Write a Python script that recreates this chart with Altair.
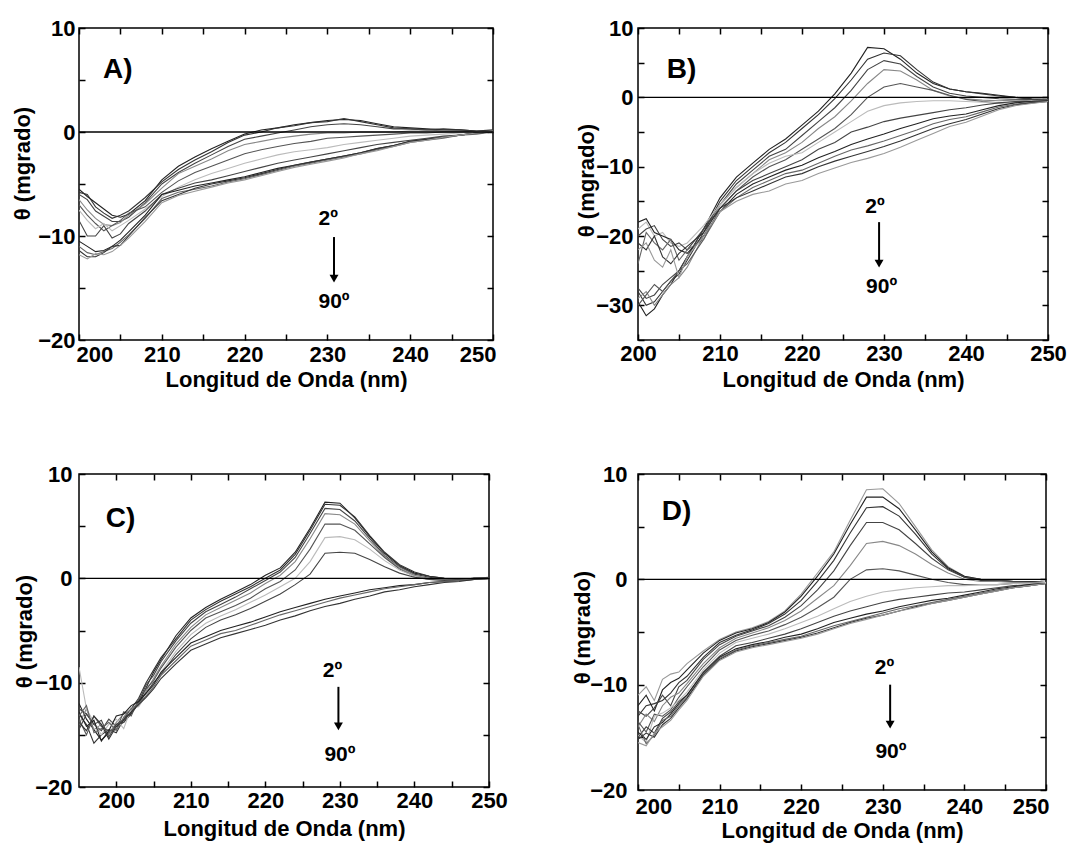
import altair as alt
import pandas as pd

FONT = "Liberation Sans"

# ---------------- Panel A ----------------
wl_a = [200, 201, 202, 203, 204, 205, 206, 208, 210, 212, 214, 216, 218, 220, 222, 224,
        226, 228, 230, 232, 234, 236, 238, 240, 242, 244, 246, 248, 250]
a1 = [-5.5, -6.2, -6.8, -7.4, -8.0, -8.2, -7.9, -6.6, -4.6, -3.3, -2.4, -1.6, -0.9, -0.2, 0.2, 0.4, 0.7, 0.9, 1.1, 1.2, 1.1, 0.8, 0.5, 0.4, 0.3, 0.2, 0.2, 0.1, 0.1]
a2 = [-5.8, -6.0, -7.2, -7.8, -8.3, -8.0, -7.6, -6.3, -4.8, -3.6, -2.7, -1.9, -1.0, -0.3, 0.0, 0.4, 0.6, 0.9, 1.0, 1.3, 1.0, 0.7, 0.4, 0.3, 0.2, 0.3, 0.2, 0.1, 0.2]
a3 = [-6.0, -6.5, -7.6, -8.1, -8.6, -8.6, -8.2, -6.8, -5.0, -3.9, -3.0, -2.2, -1.4, -0.7, -0.4, -0.1, 0.2, 0.5, 0.7, 0.8, 0.7, 0.5, 0.3, 0.3, 0.2, 0.1, 0.1, 0.0, 0.1]
a4 = [-6.5, -7.5, -8.3, -8.9, -9.0, -8.7, -8.0, -6.9, -5.4, -4.0, -3.3, -2.6, -1.8, -1.2, -0.9, -0.6, -0.4, -0.2, -0.1, -0.1, 0.0, 0.0, 0.0, 0.1, 0.1, 0.1, 0.0, 0.0, 0.0]
a5 = [-7.0, -8.0, -8.8, -9.5, -9.0, -8.5, -7.8, -7.2, -5.8, -4.7, -3.9, -3.3, -2.7, -2.1, -1.7, -1.4, -1.1, -0.9, -0.6, -0.5, -0.4, -0.3, -0.2, -0.1, -0.1, 0.0, 0.0, 0.0, 0.0]
a6 = [-7.5, -8.5, -9.3, -8.8, -9.5, -9.0, -8.5, -7.4, -6.2, -5.3, -4.6, -4.0, -3.5, -3.0, -2.6, -2.2, -1.9, -1.7, -1.5, -1.2, -1.0, -0.8, -0.6, -0.4, -0.3, -0.2, -0.1, 0.0, 0.0]
a7 = [-8.5, -10.0, -10.0, -9.0, -10.2, -9.8, -8.8, -7.6, -6.0, -5.4, -4.9, -4.6, -4.2, -3.8, -3.4, -3.0, -2.7, -2.4, -2.1, -1.8, -1.5, -1.2, -1.0, -0.8, -0.6, -0.4, -0.3, -0.1, 0.0]
a8 = [-10.5, -11.0, -11.5, -11.4, -11.0, -10.4, -9.6, -8.0, -6.0, -5.6, -5.2, -4.9, -4.6, -4.3, -3.9, -3.5, -3.2, -2.9, -2.6, -2.3, -2.0, -1.6, -1.3, -0.9, -0.7, -0.5, -0.3, -0.1, 0.0]
a9 = [-11.0, -11.6, -11.8, -11.5, -11.2, -10.6, -9.9, -8.3, -6.4, -5.8, -5.5, -5.2, -4.8, -4.5, -4.1, -3.7, -3.3, -3.0, -2.7, -2.4, -2.1, -1.7, -1.4, -1.0, -0.8, -0.6, -0.3, -0.2, 0.0]
a10 = [-11.4, -12.0, -12.0, -11.6, -11.0, -10.9, -10.0, -8.2, -6.6, -6.0, -5.4, -5.0, -4.7, -4.4, -4.0, -3.6, -3.2, -2.9, -2.6, -2.3, -2.0, -1.6, -1.3, -0.9, -0.7, -0.5, -0.3, -0.1, 0.0]
a11 = [-11.8, -12.2, -11.7, -11.8, -11.5, -10.9, -10.2, -8.6, -6.8, -6.1, -5.7, -5.3, -4.9, -4.6, -4.2, -3.8, -3.4, -3.1, -2.8, -2.5, -2.1, -1.8, -1.4, -1.0, -0.8, -0.5, -0.3, -0.1, 0.1]

# ---------------- Panel B ----------------
wl_b = [200, 201, 202, 203, 204, 205, 206, 208, 210, 212, 214, 216, 218, 220, 222, 224,
        226, 228, 230, 232, 234, 236, 238, 240, 242, 244, 246, 248, 250]
b1 = [-29.5, -31.5, -30.5, -28.5, -27.0, -25.0, -23.0, -19.0, -14.5, -11.5, -9.5, -7.5, -6.0, -4.0, -2.0, 0.5, 3.5, 7.2, 7.0, 5.5, 3.5, 2.0, 1.2, 0.8, 0.6, 0.3, 0.0, -0.2, -0.3]
b2 = [-28.0, -30.0, -29.5, -28.0, -26.5, -25.5, -23.5, -19.5, -15.0, -12.0, -10.0, -8.0, -6.5, -4.5, -2.5, -0.2, 2.5, 5.5, 6.4, 6.0, 4.0, 2.2, 1.2, 0.8, 0.5, 0.2, 0.0, -0.3, -0.4]
b3 = [-27.5, -29.0, -28.5, -27.0, -26.0, -25.0, -23.0, -19.0, -15.5, -12.5, -10.5, -8.5, -7.5, -5.5, -3.5, -1.5, 1.0, 4.0, 5.3, 4.8, 3.0, 1.5, 0.6, 0.2, 0.0, -0.2, -0.3, -0.3, -0.5]
b4 = [-29.0, -28.0, -30.0, -28.5, -27.0, -26.0, -24.5, -20.0, -15.5, -13.0, -11.0, -9.0, -8.0, -6.5, -4.5, -2.8, -0.5, 2.0, 4.0, 3.8, 2.5, 1.0, 0.2, -0.2, -0.4, -0.5, -0.4, -0.5, -0.4]
b5 = [-30.0, -28.5, -27.0, -28.0, -26.5, -25.0, -24.0, -20.5, -16.0, -13.5, -11.5, -10.0, -9.0, -7.5, -6.0, -4.5, -2.5, 0.0, 1.5, 2.0, 1.5, 1.0, 0.3, -0.3, -0.6, -0.8, -0.7, -0.6, -0.5]
b6 = [-19.0, -18.0, -20.0, -19.5, -21.0, -21.5, -21.0, -18.5, -15.5, -13.0, -11.0, -9.5, -8.5, -8.0, -6.5, -5.0, -3.5, -2.0, -1.2, -0.8, -0.6, -0.5, -0.5, -0.6, -0.7, -0.8, -0.7, -0.6, -0.5]
b7 = [-20.0, -19.0, -18.5, -20.5, -21.5, -21.0, -22.0, -19.0, -16.0, -13.5, -12.0, -11.0, -10.0, -9.0, -7.5, -6.5, -5.0, -4.3, -3.5, -3.0, -2.6, -2.2, -1.8, -1.5, -1.1, -0.8, -0.6, -0.6, -0.5]
b8 = [-18.0, -17.5, -19.5, -20.0, -20.5, -22.0, -22.5, -20.0, -16.5, -14.0, -12.5, -11.5, -10.5, -9.8, -8.7, -7.8, -6.8, -6.0, -5.3, -4.5, -3.8, -3.1, -2.7, -2.4, -1.8, -1.2, -0.8, -0.6, -0.5]
b9 = [-24.0, -19.5, -21.0, -22.0, -20.5, -23.5, -22.0, -20.5, -16.5, -14.5, -13.0, -12.0, -11.0, -10.5, -9.5, -8.5, -7.6, -7.0, -6.3, -5.5, -4.7, -3.8, -3.2, -2.8, -2.1, -1.4, -1.0, -0.7, -0.6]
b10 = [-21.0, -22.0, -20.0, -23.0, -24.0, -22.5, -21.5, -19.5, -16.0, -14.5, -13.5, -12.5, -11.5, -11.0, -10.0, -9.2, -8.5, -7.8, -7.1, -6.3, -5.4, -4.5, -3.8, -3.2, -2.4, -1.6, -1.1, -0.8, -0.6]
b11 = [-22.0, -21.0, -23.5, -24.5, -22.0, -26.0, -23.0, -20.0, -16.5, -15.0, -14.0, -13.5, -12.5, -12.0, -11.0, -10.2, -9.4, -8.8, -8.1, -7.2, -6.2, -5.2, -4.2, -3.6, -2.7, -1.8, -1.2, -0.9, -0.6]

# ---------------- Panel C ----------------
wl_c = [195, 196, 197, 198, 199, 200, 201, 202, 203, 204, 205, 206, 208, 210, 212, 214, 216,
        218, 220, 222, 224, 226, 228, 230, 232, 234, 236, 238, 240, 242, 244, 246, 248, 250]
c1 = [-12.0, -13.5, -14.5, -15.5, -14.8, -14.0, -13.8, -13.0, -12.0, -10.5, -9.0, -7.8, -5.5, -3.8, -2.8, -2.0, -1.3, -0.6, 0.3, 1.0, 2.5, 4.8, 7.3, 7.2, 5.8, 4.0, 2.4, 1.2, 0.5, 0.2, 0.0, -0.1, 0.0, 0.0]
c2 = [-13.0, -14.0, -15.8, -15.0, -14.5, -14.8, -13.5, -12.5, -11.5, -10.0, -8.8, -7.6, -5.8, -4.0, -3.0, -2.2, -1.5, -0.8, 0.0, 0.8, 2.3, 4.6, 7.1, 7.0, 5.9, 4.1, 2.5, 1.3, 0.6, 0.2, 0.0, -0.1, -0.1, 0.0]
c3 = [-12.5, -13.0, -14.0, -14.6, -13.5, -14.2, -13.8, -12.8, -11.8, -10.2, -9.3, -8.0, -6.0, -4.3, -3.2, -2.5, -1.8, -1.0, -0.2, 0.6, 2.0, 4.3, 6.7, 6.6, 5.5, 3.8, 2.2, 1.1, 0.4, 0.1, -0.1, -0.2, 0.0, 0.1]
c4 = [-14.0, -12.5, -14.5, -14.0, -15.0, -13.8, -13.0, -12.6, -12.2, -10.8, -9.6, -8.4, -6.3, -4.7, -3.5, -2.8, -2.1, -1.4, -0.5, 0.3, 1.6, 3.8, 6.2, 6.1, 5.2, 3.6, 2.1, 1.0, 0.3, 0.0, -0.2, -0.1, 0.0, 0.0]
c5 = [-13.5, -15.0, -13.2, -14.2, -14.6, -14.5, -12.8, -13.2, -11.6, -10.6, -9.8, -8.6, -6.6, -5.0, -3.8, -3.2, -2.6, -1.9, -1.0, -0.3, 0.8, 2.8, 5.2, 5.2, 4.6, 3.3, 2.0, 0.9, 0.2, -0.1, -0.1, -0.2, 0.0, 0.0]
c6 = [-8.5, -12.5, -13.8, -15.0, -14.0, -13.5, -14.4, -12.4, -12.3, -11.2, -10.2, -9.0, -7.0, -5.4, -4.3, -3.6, -3.0, -2.3, -1.6, -0.8, 0.0, 1.6, 3.9, 4.0, 3.7, 2.8, 1.7, 0.8, 0.2, -0.1, -0.2, -0.2, -0.1, 0.0]
c7 = [-14.5, -13.0, -14.0, -13.6, -15.2, -14.0, -13.5, -12.9, -11.9, -11.0, -10.0, -9.2, -7.3, -5.8, -4.7, -4.0, -3.5, -2.9, -2.2, -1.5, -0.6, 0.4, 2.4, 2.5, 2.4, 1.8, 1.1, 0.5, 0.1, -0.1, -0.2, -0.1, 0.0, 0.0]
c8 = [-12.8, -14.2, -13.6, -15.6, -14.6, -13.2, -13.0, -12.2, -11.8, -11.0, -10.2, -9.0, -7.6, -6.2, -5.6, -5.0, -4.6, -4.2, -3.7, -3.2, -2.8, -2.4, -2.0, -1.7, -1.4, -1.1, -0.9, -0.7, -0.6, -0.4, -0.3, -0.2, -0.1, 0.0]
c9 = [-13.2, -12.2, -14.8, -14.4, -13.8, -14.6, -13.3, -12.5, -12.0, -11.3, -10.4, -9.3, -7.9, -6.5, -5.9, -5.3, -5.0, -4.5, -4.0, -3.5, -3.1, -2.7, -2.3, -1.9, -1.6, -1.3, -1.0, -0.8, -0.6, -0.4, -0.3, -0.2, -0.1, 0.0]
c10 = [-13.8, -14.6, -13.2, -14.0, -15.4, -14.2, -13.6, -12.8, -12.1, -11.4, -10.6, -9.6, -8.2, -6.9, -6.3, -5.7, -5.3, -4.9, -4.5, -4.0, -3.6, -3.1, -2.7, -2.4, -2.0, -1.7, -1.3, -1.1, -0.8, -0.6, -0.4, -0.3, -0.1, 0.0]

# ---------------- Panel D ----------------
wl_d = [200, 201, 202, 203, 204, 205, 206, 208, 210, 212, 214, 216, 218, 220, 222, 224,
        226, 228, 230, 232, 234, 236, 238, 240, 242, 244, 246, 248, 250]
d1 = [-11.0, -10.2, -11.5, -9.5, -9.0, -8.8, -8.0, -6.8, -5.7, -5.0, -4.6, -4.0, -3.0, -1.4, 0.6, 2.6, 5.6, 8.5, 8.6, 7.2, 5.0, 2.8, 1.2, 0.3, 0.0, -0.1, -0.2, -0.2, -0.3]
d2 = [-12.0, -11.0, -12.5, -10.5, -9.8, -9.4, -8.6, -7.0, -5.8, -5.1, -4.7, -4.1, -3.1, -1.6, 0.3, 2.4, 5.2, 7.8, 7.8, 6.7, 4.7, 2.6, 1.1, 0.3, 0.0, -0.1, -0.2, -0.2, -0.3]
d3 = [-13.0, -12.0, -11.8, -11.5, -10.8, -9.8, -9.2, -7.4, -6.0, -5.3, -4.8, -4.2, -3.3, -2.0, -0.2, 1.8, 4.4, 6.8, 6.9, 6.0, 4.3, 2.4, 1.0, 0.2, -0.1, -0.1, -0.2, -0.2, -0.3]
d4 = [-12.5, -13.0, -12.2, -11.0, -12.0, -10.2, -9.6, -7.6, -6.2, -5.4, -4.9, -4.4, -3.6, -2.5, -1.0, 0.8, 3.2, 5.4, 5.4, 4.7, 3.4, 2.0, 0.9, 0.2, 0.0, -0.1, -0.2, -0.3, -0.3]
d5 = [-14.0, -12.8, -13.5, -12.0, -11.2, -10.8, -9.9, -8.0, -6.5, -5.6, -5.1, -4.6, -3.9, -3.0, -1.8, -0.6, 1.3, 3.4, 3.6, 3.2, 2.4, 1.4, 0.6, 0.0, -0.2, -0.2, -0.3, -0.3, -0.3]
d6 = [-13.5, -14.5, -12.8, -13.0, -12.4, -11.2, -10.2, -8.3, -6.7, -5.8, -5.3, -4.9, -4.3, -3.6, -2.7, -1.7, 0.0, 0.9, 1.0, 0.8, 0.4, 0.0, -0.3, -0.5, -0.5, -0.5, -0.4, -0.4, -0.3]
d7 = [-14.8, -15.5, -13.0, -12.7, -12.2, -11.5, -10.7, -8.6, -7.0, -6.0, -5.6, -5.2, -4.7, -4.1, -3.5, -2.8, -2.1, -1.6, -1.2, -1.0, -0.8, -0.7, -0.6, -0.6, -0.5, -0.5, -0.4, -0.4, -0.3]
d8 = [-15.0, -14.0, -14.6, -13.2, -12.6, -11.6, -11.0, -8.8, -7.3, -6.3, -6.0, -5.6, -5.2, -4.7, -4.1, -3.5, -3.0, -2.6, -2.2, -1.9, -1.7, -1.5, -1.3, -1.2, -1.0, -0.8, -0.6, -0.5, -0.4]
d9 = [-14.5, -15.2, -14.0, -13.6, -12.8, -11.8, -11.0, -8.9, -7.4, -6.6, -6.2, -5.9, -5.5, -5.2, -4.7, -4.1, -3.7, -3.3, -3.0, -2.6, -2.3, -2.0, -1.8, -1.5, -1.2, -0.9, -0.7, -0.5, -0.4]
d10 = [-13.8, -15.6, -14.8, -13.4, -13.0, -12.0, -11.2, -9.0, -7.5, -6.7, -6.3, -6.0, -5.7, -5.4, -4.9, -4.4, -4.0, -3.6, -3.2, -2.8, -2.5, -2.2, -1.9, -1.6, -1.3, -1.0, -0.8, -0.6, -0.4]
d11 = [-15.2, -14.6, -15.0, -13.8, -13.2, -12.2, -11.3, -9.1, -7.6, -6.8, -6.4, -6.1, -5.8, -5.5, -5.1, -4.6, -4.1, -3.7, -3.4, -3.0, -2.6, -2.3, -2.0, -1.7, -1.4, -1.1, -0.8, -0.6, -0.4]
d12 = [-15.5, -15.8, -14.6, -14.0, -13.4, -12.4, -11.5, -9.2, -7.7, -6.9, -6.5, -6.2, -5.9, -5.6, -5.2, -4.7, -4.2, -3.8, -3.4, -3.0, -2.7, -2.3, -2.0, -1.7, -1.4, -1.1, -0.8, -0.6, -0.4]

# line colours (greys) per panel
greys_a = ["#222222", "#333333", "#444444", "#888888", "#555555", "#bbbbbb", "#444444", "#222222", "#666666", "#333333", "#999999"]
greys_b = ["#d0d0d0", "#999999", "#333333", "#444444", "#222222", "#111111", "#222222", "#777777", "#888888", "#444444", "#111111"]
greys_c = ["#cccccc", "#999999", "#333333", "#444444", "#333333", "#444444", "#222222", "#777777", "#888888", "#222222"]
greys_d = ["#111111", "#444444", "#bbbbbb", "#333333", "#cccccc", "#444444", "#dddddd", "#777777", "#222222", "#555555", "#111111", "#999999"]

X_TITLE = "Longitud de Onda (nm)"
Y_TITLE = "θ (mgrado)"
TICK = 6
LABEL_EXPR = "datum.value % 10 === 0 ? datum.label : ''"


def long_df(prefix, wl, curves):
    rows = []
    for i, ys in enumerate(curves):
        for x, y in zip(wl, ys):
            rows.append({"x": x, "y": y, "s": f"{prefix}{i + 1}"})
    return pd.DataFrame(rows)


def panel(prefix, wl, curves, greys, xdom, ydom, w, h, xvals, yvals,
          flush, xlabpad, ylabpad, xtitle_y, ytitle_x, ytitle_y,
          letter, letter_pos, anno):
    df = long_df(prefix, wl, curves)
    names = [f"{prefix}{i + 1}" for i in range(len(curves))]
    xs = alt.Scale(domain=xdom, nice=False, zero=False)
    ys = alt.Scale(domain=ydom, nice=False, zero=False)
    common = dict(domain=False, ticks=True, tickSize=TICK, tickWidth=1.5,
                  tickColor="black", offset=-TICK, labelOverlap=False, grid=False)
    xb_kw = dict(orient="bottom", values=xvals, labelExpr=LABEL_EXPR,
                 labelPadding=xlabpad, title=X_TITLE, titleY=xtitle_y,
                 titleBaseline="middle", **common)
    if flush:
        xb_kw.update(labelFlush=True, labelFlushOffset=3)
    else:
        xb_kw.update(labelFlush=False)
    x_bottom = alt.Axis(**xb_kw)
    y_left = alt.Axis(orient="left", values=yvals, labelExpr=LABEL_EXPR,
                      labelPadding=ylabpad, title=Y_TITLE, titleX=ytitle_x,
                      titleY=ytitle_y, titleBaseline="middle", titleAngle=270,
                      **common)
    x_top = alt.Axis(orient="top", values=xvals, labels=False, title=None, **common)
    y_right = alt.Axis(orient="right", values=yvals, labels=False, title=None, **common)

    lines = alt.Chart(df).mark_line(strokeWidth=1.1, clip=True).encode(
        x=alt.X("x:Q", scale=xs, axis=x_bottom),
        y=alt.Y("y:Q", scale=ys, axis=y_left),
        color=alt.Color("s:N", scale=alt.Scale(domain=names, range=greys), legend=None),
    )
    frame = alt.Chart(df).mark_point(opacity=0).encode(
        x=alt.X("x:Q", scale=xs, axis=x_top),
        y=alt.Y("y:Q", scale=ys, axis=y_right),
    )
    one = pd.DataFrame({"k": [0]})
    zero = alt.Chart(one).mark_rule(color="black", strokeWidth=1.4).encode(
        y=alt.YDatum(0, axis=None)
    )
    lab = alt.Chart(one).mark_text(
        text=letter, font=FONT, fontSize=28, fontWeight="bold", color="black",
        align="left", baseline="middle"
    ).encode(x=alt.XDatum(letter_pos[0], axis=None), y=alt.YDatum(letter_pos[1], axis=None))

    (t2x, t2y), (ax, ay1, ay2, heady), (t90x, t90y) = anno
    t2 = alt.Chart(one).mark_text(
        text="2º", font=FONT, fontSize=21, fontWeight="bold", color="black",
        align="center", baseline="middle"
    ).encode(x=alt.XDatum(t2x, axis=None), y=alt.YDatum(t2y, axis=None))
    t90 = alt.Chart(one).mark_text(
        text="90º", font=FONT, fontSize=21, fontWeight="bold", color="black",
        align="center", baseline="middle"
    ).encode(x=alt.XDatum(t90x, axis=None), y=alt.YDatum(t90y, axis=None))
    shaft = alt.Chart(one).mark_rule(color="black", strokeWidth=2).encode(
        x=alt.XDatum(ax, axis=None), y=alt.YDatum(ay1, axis=None), y2=alt.Y2Datum(ay2)
    )
    head = alt.Chart(one).mark_point(
        shape="triangle-down", filled=True, size=80, color="black", opacity=1
    ).encode(x=alt.XDatum(ax, axis=None), y=alt.YDatum(heady, axis=None))

    return alt.layer(lines, frame, zero, lab, t2, shaft, head, t90).resolve_axis(
        x="independent", y="independent"
    ).properties(width=w, height=h)


xt = list(range(200, 251, 5))
pA = panel("A", wl_a, [a1, a2, a3, a4, a5, a6, a7, a8, a9, a10, a11], greys_a,
           [200, 250], [-20, 10], 414, 312, xt, list(range(-20, 11, 5)),
           True, 4, 4, 45, -63, 135, "A)", (202.9, 6.0),
           ((230.1, -8.4), (230.8, -10.1, -13.8, -14.1), (230.8, -16.3)))
pB = panel("B", wl_b, [b1, b2, b3, b4, b5, b6, b7, b8, b9, b10, b11], greys_b,
           [200, 250], [-35, 10], 410, 312, xt, list(range(-35, 11, 5)),
           False, 3, 5, 45, -58, 152, "B)", (203.5, 3.9),
           ((228.9, -15.8), (229.4, -18.0, -23.5, -24.0), (229.7, -27.3)))
pC = panel("C", wl_c, [c1, c2, c3, c4, c5, c6, c7, c8, c9, c10], greys_c,
           [195, 250], [-20, 10], 410, 313, xt, list(range(-20, 11, 5)),
           False, 3, 7, 47, -61, 157, "C)", (198.6, 5.7),
           ((229.0, -8.9), (229.8, -10.4, -13.9, -14.2), (230.0, -16.9)))
pD = panel("D", wl_d, [d1, d2, d3, d4, d5, d6, d7, d8, d9, d10, d11, d12], greys_d,
           [200, 250], [-20, 10], 408, 316, xt, list(range(-20, 11, 5)),
           True, 6, 11, 46, -62, 153, "D)", (202.9, 6.35),
           ((230.2, -8.4), (230.9, -10.0, -13.5, -13.8), (231.0, -16.4)))

chart = alt.concat(
    pA, pB, pC, pD, columns=2, spacing={"row": 134, "column": 145}, bounds="flush"
).properties(
    padding={"left": 10, "top": 16, "right": 5, "bottom": 2},
    background="white",
).configure_view(
    stroke="black", strokeWidth=1.5
).configure_axis(
    labelFont=FONT, labelFontSize=22, labelFontWeight="bold", labelColor="black",
    titleFont=FONT, titleFontSize=22, titleFontWeight="bold", titleColor="black",
)

chart.save("out.html", embed_options={"renderer": "svg", "actions": False})
